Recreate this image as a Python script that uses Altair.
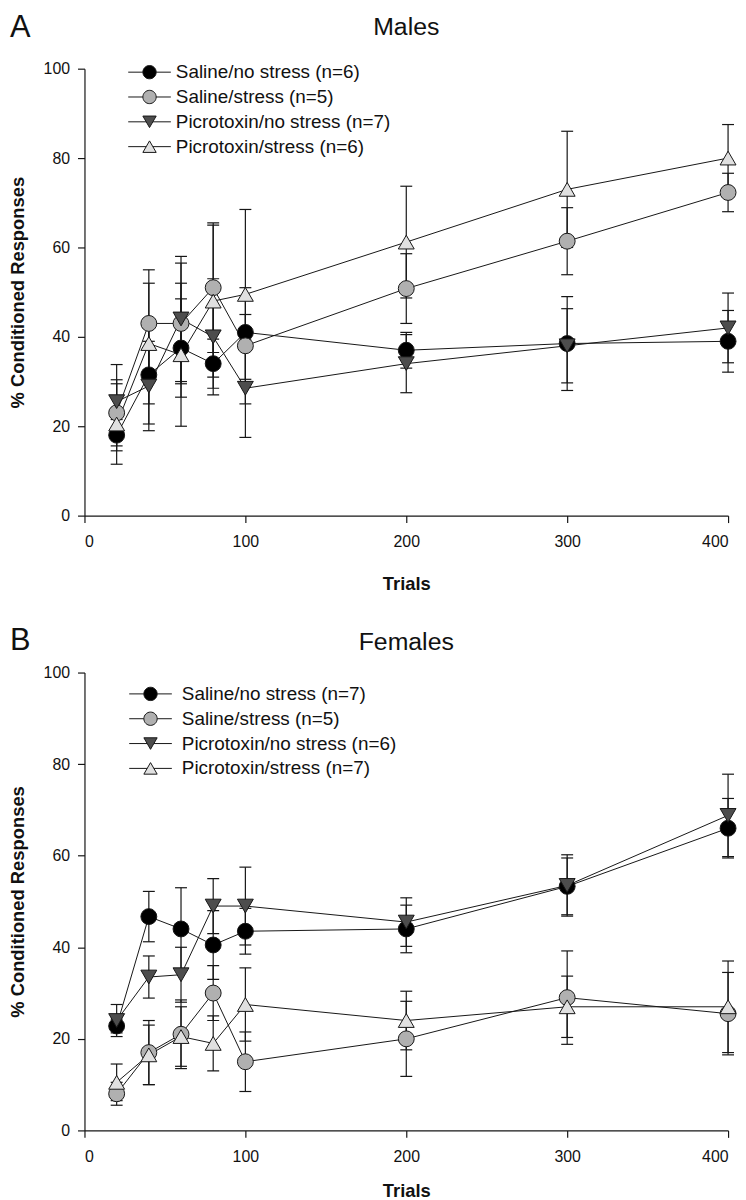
import altair as alt
import pandas as pd

trials = [20, 40, 60, 80, 100, 200, 300, 400]

series_m = ["Saline/no stress (n=6)", "Saline/stress (n=5)",
            "Picrotoxin/no stress (n=7)", "Picrotoxin/stress (n=6)"]
series_f = ["Saline/no stress (n=7)", "Saline/stress (n=5)",
            "Picrotoxin/no stress (n=6)", "Picrotoxin/stress (n=7)"]

# Males: means and SEM
m_sal_ns = [18, 31.5, 37.5, 34, 41, 37, 38.5, 39]
m_sal_ns_e = [3.5, 11, 11, 5.5, 4, 4, 10.5, 6.9]
m_sal_s = [23, 43, 43, 51, 38, 50.8, 61.4, 72.3]
m_sal_s_e = [7.4, 12, 13.5, 14.5, 13, 7.8, 7.5, 4.3]
m_pic_ns = [25.5, 29, 44, 40, 28.5, 34, 38, 42]
m_pic_ns_e = [8.3, 10, 14, 13, 11, 6.5, 8.3, 7.8]
m_pic_s = [20.5, 38.5, 36, 48, 49.5, 61.2, 73, 80]
m_pic_s_e = [9, 13.5, 16, 17, 19, 12.5, 13, 7.5]

# Females: means and SEM
f_sal_ns = [22.8, 46.7, 44, 40.5, 43.5, 44, 53.3, 66]
f_sal_ns_e = [1.5, 5.5, 9, 7.5, 5, 5.2, 6.2, 6.5]
f_sal_s = [8, 17, 21, 30, 15, 20, 29, 25.5]
f_sal_s_e = [2.5, 7, 7.5, 6, 6.5, 8.2, 10.2, 9]
f_pic_ns = [24, 33.5, 34, 49, 49, 45.5, 53.5, 68.8]
f_pic_ns_e = [3.5, 4.6, 6, 6, 8.5, 5.3, 6.7, 9]
f_pic_s = [10.5, 16.5, 20.5, 19, 27.5, 24, 27, 27]
f_pic_s_e = [4, 6.5, 6.5, 6, 8, 6.4, 6.7, 10]

x_ticks = [0, 100, 200, 300, 400]
y_ticks = [0, 20, 40, 60, 80, 100]

FONT = "Liberation Sans"
INK = "#161616"
FILLS = ["#000000", "#b0b0b0", "#4d4d4d", "#e0e0e0"]
OUTLINES = [INK, INK, INK, INK]
SHAPES = ["circle", "circle", "triangle-down", "triangle-up"]
LEG_SHAPES = [
    "M-3.2,0H-1M1,0H3.2M1,0A1,1,0,1,1,-1,0A1,1,0,1,1,1,0Z",
    "M-3.2,0H-1M1,0H3.2M1,0A1,1,0,1,1,-1,0A1,1,0,1,1,1,0Z",
    "M-3.2,0H-0.5M0.5,0H3.2M-1,-0.866L1,-0.866L0,0.866Z",
    "M-3.2,0H-0.5M0.5,0H3.2M0,-0.866L1,0.866L-1,0.866Z",
]


def make_df(series, means, sems):
    rows = []
    for s, m, e in zip(series, means, sems):
        for t, v, se in zip(trials, m, e):
            rows.append({"series": s, "trial": t, "mean": v, "sem": se})
    return pd.DataFrame(rows)


def panel(df, series, title, letter, height, title_y, letter_y,
          legend_x, legend_y, label_offset, x_title_pad):
    xs = alt.Scale(domain=[0, 400], nice=False)
    ys = alt.Scale(domain=[0, 100], nice=False)
    xax = alt.Axis(values=x_ticks, title="Trials", format="d", titlePadding=x_title_pad)
    yax = alt.Axis(values=y_ticks, title="% Conditioned Responses", format="d")

    def X(f="trial"):
        return alt.X(f + ":Q", scale=xs, axis=xax, title="Trials")

    def Y(f):
        return alt.Y(f + ":Q", scale=ys, axis=yax, title="% Conditioned Responses")

    base = alt.Chart(df)
    lines = base.mark_line(color=INK, strokeWidth=1).encode(
        x=X(), y=Y("mean"), detail="series:N", order="trial:Q")
    err = base.transform_calculate(lo="datum.mean - datum.sem",
                                   hi="datum.mean + datum.sem")
    rules = err.mark_rule(color=INK, strokeWidth=1.2).encode(
        x=X(), y=Y("lo"), y2="hi:Q")
    cap_lo = err.mark_tick(orient="horizontal", size=12, thickness=1.2,
                           color=INK, opacity=1).encode(x=X(), y=Y("lo"))
    cap_hi = err.mark_tick(orient="horizontal", size=12, thickness=1.2,
                           color=INK, opacity=1).encode(x=X(), y=Y("hi"))

    points = base.mark_point(filled=True, size=256, stroke=INK,
                             strokeWidth=1, opacity=1).encode(
        x=X(), y=Y("mean"),
        fill=alt.Fill("series:N", scale=alt.Scale(domain=series, range=FILLS), legend=None),
        shape=alt.Shape("series:N", scale=alt.Scale(domain=series, range=SHAPES), legend=None),
    )

    leg = alt.Legend(orient="none", legendX=legend_x, legendY=legend_y, title=None,
                     labelFont=FONT, labelFontSize=19, labelColor="#111",
                     labelOffset=label_offset, symbolSize=180, symbolStrokeWidth=1,
                     symbolStrokeColor=INK, symbolOpacity=1, rowPadding=5,
                     padding=0, labelLimit=400)
    # invisible layer that only carries the legend (line-through-symbol keys)
    legend_layer = base.mark_point(filled=True, stroke=INK, strokeWidth=1,
                                   opacity=0).encode(
        x=X(), y=Y("mean"),
        fill=alt.Fill("series:N", scale=alt.Scale(domain=series, range=FILLS), legend=leg),
        shape=alt.Shape("series:N", scale=alt.Scale(domain=series, range=LEG_SHAPES), legend=leg),
        stroke=alt.Stroke("series:N", scale=alt.Scale(domain=series, range=OUTLINES), legend=leg),
    )
    one = alt.Chart(alt.Data(values=[{"k": 1}]))
    ttl = one.mark_text(text=title, font=FONT, fontSize=25, align="center",
                        baseline="alphabetic", color="#111").encode(
        x=alt.value(324), y=alt.value(title_y))
    let = one.mark_text(text=letter, font=FONT, fontSize=31, align="left",
                        baseline="alphabetic", color="#111").encode(
        x=alt.value(-75), y=alt.value(letter_y))
    return alt.layer(lines, rules, cap_lo, cap_hi, legend_layer, points,
                     ttl, let).resolve_scale(
        fill="independent", shape="independent", stroke="independent"
    ).resolve_legend(
        fill="independent", shape="independent", stroke="independent"
    ).properties(width=648, height=height)


top = panel(make_df(series_m, [m_sal_ns, m_sal_s, m_pic_ns, m_pic_s],
                    [m_sal_ns_e, m_sal_s_e, m_pic_ns_e, m_pic_s_e]),
            series_m, "Males", "A", 450, -34, -32, 56, -6, 17, 25)
bottom = panel(make_df(series_f, [f_sal_ns, f_sal_s, f_pic_ns, f_pic_s],
                       [f_sal_ns_e, f_sal_s_e, f_pic_ns_e, f_pic_s_e]),
               series_f, "Females", "B", 461, -23, -23, 57, 12, 22, 18)

chart = alt.vconcat(top, bottom, spacing=32).resolve_scale(
    fill="independent", shape="independent", stroke="independent"
).resolve_legend(
    fill="independent", shape="independent", stroke="independent"
).properties(
    padding={"left": 0, "top": 0, "right": 0, "bottom": 0}
).configure_view(stroke=None).configure_legend(
    symbolStrokeColor=INK, symbolStrokeWidth=1
).configure_axis(
    domainColor=INK, domainWidth=1.2, tickColor=INK, tickWidth=1.2, tickSize=7,
    labelFont=FONT, labelFontSize=16, labelColor="#111", labelPadding=8,
    titleFont=FONT, titleFontSize=18.5, titleColor="#111", titleFontWeight="bold",
    grid=False,
).configure_axisY(titlePadding=16).configure_axisX(labelPadding=11)

chart.save("out.html", embed_options={"renderer": "svg", "actions": False})
